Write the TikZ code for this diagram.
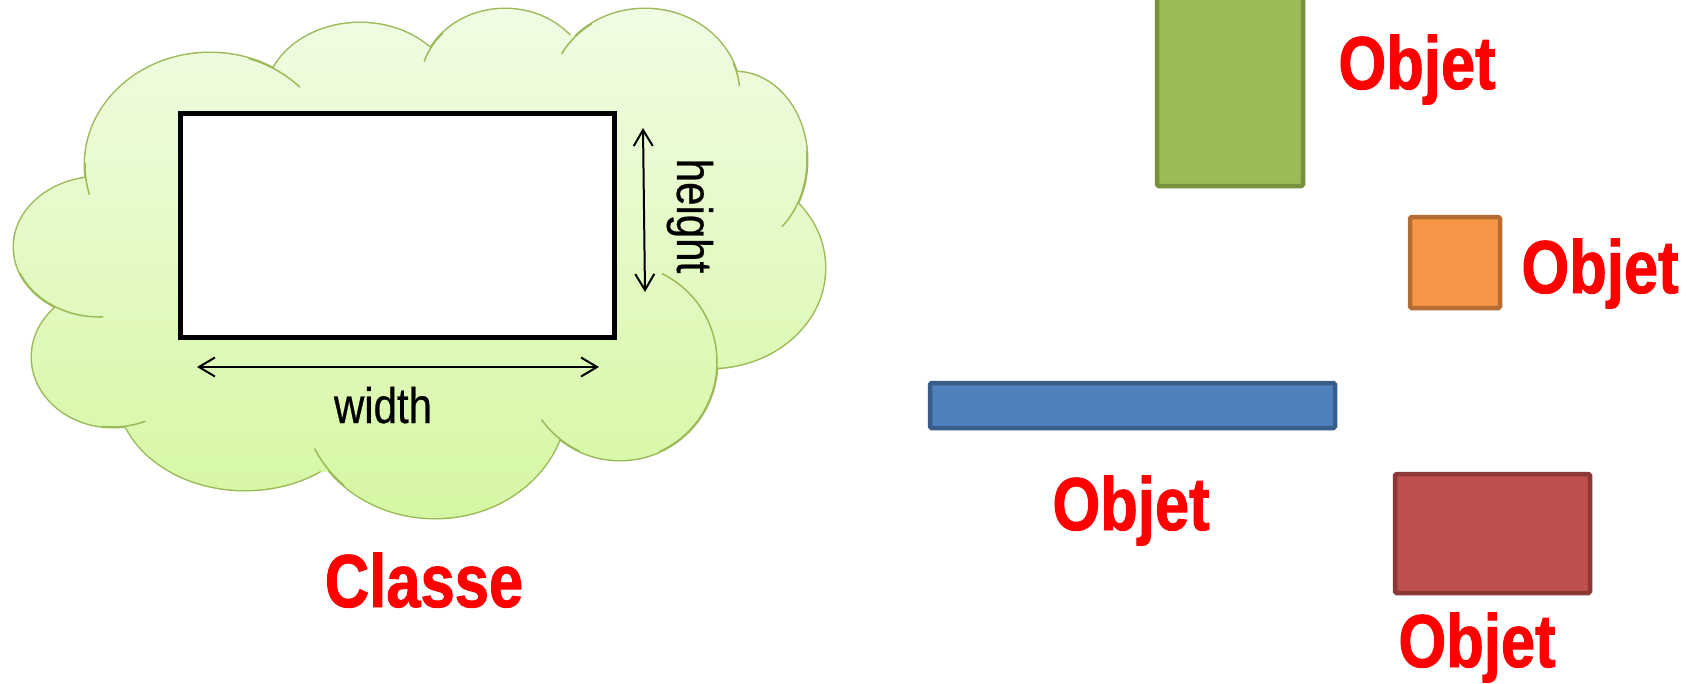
\documentclass[tikz,border=0pt]{standalone}
\usepackage{fontspec}
\usetikzlibrary{arrows.meta}
\newfontfamily\labfont[FakeStretch=0.82,FakeBold=1.2]{Liberation Sans}
\newfontfamily\dimfont[FakeStretch=0.84,FakeBold=0.5]{Liberation Sans}
\definecolor{cloudedge}{HTML}{9BBB59}
\definecolor{cloudtop}{HTML}{F1FCE4}
\definecolor{cloudbot}{HTML}{D5F7A2}
\definecolor{gfill}{HTML}{9BBB59}\definecolor{gdraw}{HTML}{76923C}
\definecolor{ofill}{HTML}{F79646}\definecolor{odraw}{HTML}{B66D31}
\definecolor{bfill}{HTML}{4F81BD}\definecolor{bdraw}{HTML}{385D8A}
\definecolor{rfill}{HTML}{C0504D}\definecolor{rdraw}{HTML}{8C3836}
\def\cloudbumps{
 (210,165) ellipse[x radius=125pt,y radius=112pt]
 (360,100) ellipse[x radius=95pt,y radius=77pt]
 (505,85) ellipse[x radius=85pt,y radius=76pt]
 (645,95) ellipse[x radius=95pt,y radius=86pt]
 (735,160) ellipse[x radius=72pt,y radius=88pt]
 (710,268) ellipse[x radius=115pt,y radius=100pt]
 (620,362) ellipse[x radius=97pt,y radius=98pt]
 (435,400) ellipse[x radius=132pt,y radius=118pt]
 (245,390) ellipse[x radius=128pt,y radius=100pt]
 (113,357) ellipse[x radius=81pt,y radius=70pt]
 (100,247) ellipse[x radius=86pt,y radius=70pt]}
\def\cloudcore{(277,68) -- (433,47) -- (573,35) -- (735,75) -- (798,190) -- (717,363) -- (558,438) -- (323,472) -- (124,426) -- (55,308) -- (87,179) -- cycle}
\tikzset{
 cloudline/.style={draw=cloudedge, line width=1.5pt},
 objrect/.style={rectangle, line width=4.5pt, rounded corners=1.5pt, inner sep=0pt},
 objlabel/.style={text=red, font=\labfont\bfseries\fontsize{75}{80}\selectfont, inner sep=0pt, anchor=base},
 dimlabel/.style={text=black, font=\dimfont\fontsize{50}{55}\selectfont, inner sep=0pt, anchor=base},
 dimarrow/.style={line width=2pt, {Straight Barb[length=16pt,width=19pt]}-{Straight Barb[length=16pt,width=19pt]}},
 classrect/.style={rectangle, draw=black, fill=white, line width=5pt, inner sep=0pt}
}
\begin{document}
\begin{tikzpicture}[x=1pt,y=-1pt]
\useasboundingbox (0,0) rectangle (1687,683);
% cloud outline (outer half remains visible)
\draw[draw=cloudedge, line width=3pt] \cloudbumps;
% cloud fill
\begin{scope}
 \clip \cloudbumps;
 \shade[top color=cloudtop, bottom color=cloudbot] (0,5) rectangle (840,522);
\end{scope}
\begin{scope}
 \clip \cloudcore;
 \shade[top color=cloudtop, bottom color=cloudbot] (0,5) rectangle (840,522);
\end{scope}
% inner arcs of the cloud
\foreach \jx/\jy/\jr/\cx/\cy/\rx/\ry in {
 277/68/30/210/165/125/112,
 87/179/16/210/165/125/112,
 433/47/17/505/85/85/76,
 573/35/22/645/95/95/86,
 735/75/12/645/95/95/86,
 798/190/40/735/160/72/88,
 717/363/105/620/362/97/98,
 558/438/25/620/362/97/98,
 323/472/25/435/400/132/118,
 124/426/22/113/357/81/70,
 55/308/49/100/247/86/70}{
 \begin{scope}
  \clip (\jx,\jy) circle[radius=\jr pt];
  \draw[cloudline] (\cx,\cy) ellipse[x radius=\rx pt, y radius=\ry pt];
 \end{scope}
}
% class rectangle
\node[classrect, minimum width=434pt, minimum height=224pt] (cls) at (397,225) {};
\coordinate (wl) at (197,367);
\coordinate (wr) at (599,367);
\draw[dimarrow] (wl) -- (wr);
\node[dimlabel] (wtext) at (383,423) {width};
\coordinate (ht) at (643,128);
\coordinate (hb) at (645,292);
\draw[dimarrow] (ht) -- (hb);
\node[dimlabel, rotate=-90] (htext) at (677,216) {height};
\node[objlabel] (classe) at (424,607) {Classe};
% objects
\node[objrect, fill=gfill, draw=gdraw, minimum width=146pt, minimum height=191pt] (og) at (1230,90.5) {};
\node[objrect, fill=ofill, draw=odraw, minimum width=90pt, minimum height=91pt] (oo) at (1455,262.5) {};
\node[objrect, fill=bfill, draw=bdraw, minimum width=405pt, minimum height=45pt] (ob) at (1132.5,405.5) {};
\node[objrect, fill=rfill, draw=rdraw, minimum width=195pt, minimum height=119pt] (or) at (1492.5,533.5) {};
\node[objlabel] (lg) at (1417,89) {Objet};
\node[objlabel] (lo) at (1600,293) {Objet};
\node[objlabel] (lb) at (1131,530) {Objet};
\node[objlabel] (lr) at (1477,667) {Objet};
\end{tikzpicture}
\end{document}
